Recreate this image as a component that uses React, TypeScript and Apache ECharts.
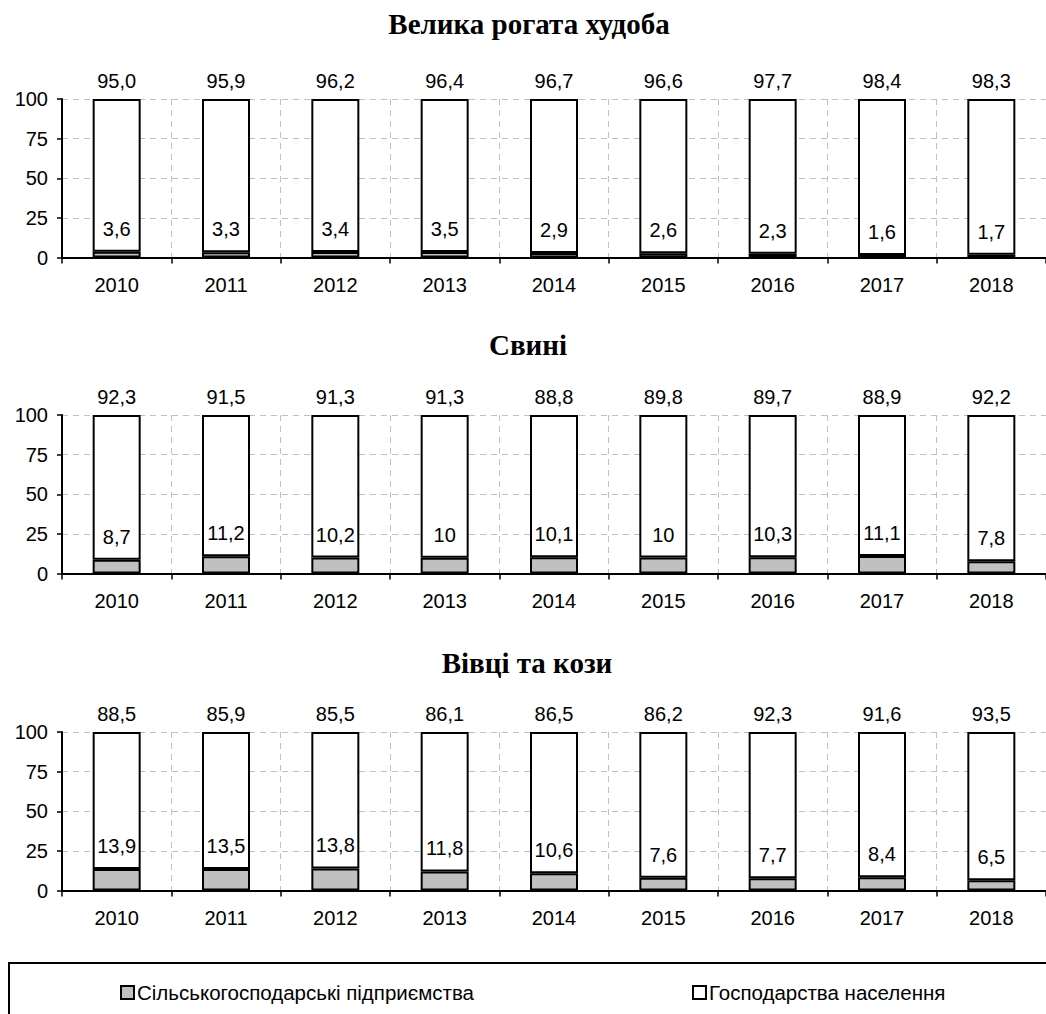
import React, { useEffect, useRef } from "react";
import * as echarts from "echarts";

const years = ["2010", "2011", "2012", "2013", "2014", "2015", "2016", "2017", "2018"];

const panelTitles = ["Велика рогата худоба", "Свині", "Вівці та кози"];

const seriesNames = ["Сільськогосподарські підприємства", "Господарства населення"];

const cattleEnterprises = [3.6, 3.3, 3.4, 3.5, 2.9, 2.6, 2.3, 1.6, 1.7];
const cattleHouseholds = [95.0, 95.9, 96.2, 96.4, 96.7, 96.6, 97.7, 98.4, 98.3];

const pigsEnterprises = [8.7, 11.2, 10.2, 10, 10.1, 10, 10.3, 11.1, 7.8];
const pigsHouseholds = [92.3, 91.5, 91.3, 91.3, 88.8, 89.8, 89.7, 88.9, 92.2];

const sheepEnterprises = [13.9, 13.5, 13.8, 11.8, 10.6, 7.6, 7.7, 8.4, 6.5];
const sheepHouseholds = [88.5, 85.9, 85.5, 86.1, 86.5, 86.2, 92.3, 91.6, 93.5];

const yTicks = [0, 25, 50, 75, 100];

const FONT = '"Liberation Sans", Arial, Helvetica, sans-serif';
const SERIF = '"Liberation Serif", "Times New Roman", serif';

const panels = [
  { ent: cattleEnterprises, house: cattleHouseholds },
  { ent: pigsEnterprises, house: pigsHouseholds },
  { ent: sheepEnterprises, house: sheepHouseholds },
];

const gridTops = [99, 415, 732];
const gridHeight = 158.5;
const titlePos = [
  { x: 529, y: 24 },
  { x: 528, y: 345 },
  { x: 527, y: 663 },
];

const comma = (v: number) => String(v).replace(".", ",");
const comma1 = (v: number) => v.toFixed(1).replace(".", ",");

export default function App() {
  const ref = useRef<HTMLDivElement>(null);

  useEffect(() => {
    document.body.style.margin = "0";
    document.body.style.overflow = "hidden";
    if (!ref.current) return;
    const chart = echarts.init(ref.current, undefined, { renderer: "svg" });

    const grids: any[] = [];
    const xAxes: any[] = [];
    const yAxes: any[] = [];
    const series: any[] = [];

    panels.forEach((p, i) => {
      grids.push({ left: 62, top: gridTops[i], width: 987, height: gridHeight, containLabel: false });
      xAxes.push({
        type: "category",
        gridIndex: i,
        data: years,
        axisLine: { show: true, lineStyle: { color: "#000", width: 2 } },
        axisTick: { show: true, length: 6, lineStyle: { color: "#000", width: 1.5 } },
        axisLabel: { color: "#000", fontFamily: FONT, fontSize: 20, margin: 17 },
        splitLine: { show: true, lineStyle: { color: "#c0c0c0", width: 1, type: [6, 5] } },
      });
      yAxes.push({
        type: "value",
        gridIndex: i,
        min: yTicks[0],
        max: yTicks[yTicks.length - 1],
        interval: 25,
        axisLine: { show: true, lineStyle: { color: "#000", width: 2 } },
        axisTick: { show: true, length: 5, lineStyle: { color: "#000", width: 1.5 } },
        axisLabel: { color: "#000", fontFamily: FONT, fontSize: 20, margin: 14 },
        splitLine: { show: true, lineStyle: { color: "#c0c0c0", width: 1, type: [6, 5] } },
      });
      // 100% stacked: normalise each year's pair of shares
      const entPct = p.ent.map((e, k) => (e / (e + p.house[k])) * 100);
      const housePct = p.house.map((h, k) => (h / (h + p.ent[k])) * 100);
      series.push({
        type: "bar",
        name: seriesNames[0],
        xAxisIndex: i,
        yAxisIndex: i,
        stack: "s" + i,
        barWidth: 48,
        z: 3,
        data: entPct,
        itemStyle: { color: "#c0c0c0", borderColor: "#000", borderWidth: 2 },
        label: {
          show: true,
          position: "top",
          distance: 13,
          color: "#000",
          fontFamily: FONT,
          fontSize: 20,
          formatter: (prm: any) => comma(p.ent[prm.dataIndex]),
        },
      });
      series.push({
        type: "bar",
        name: seriesNames[1],
        xAxisIndex: i,
        yAxisIndex: i,
        stack: "s" + i,
        barWidth: 48,
        z: 2,
        data: housePct,
        itemStyle: { color: "#fff", borderColor: "#000", borderWidth: 2 },
        label: {
          show: true,
          position: "top",
          distance: 8,
          color: "#000",
          fontFamily: FONT,
          fontSize: 20,
          formatter: (prm: any) => comma1(p.house[prm.dataIndex]),
        },
      });
    });

    const graphic: any[] = panelTitles.map((t, i) => ({
      type: "text",
      x: titlePos[i].x,
      y: titlePos[i].y,
      style: {
        text: t,
        font: `bold 29px ${SERIF}`,
        fill: "#000",
        align: "center",
        verticalAlign: "middle",
        textAlign: "center",
        textVerticalAlign: "middle",
      },
    }));
    graphic.push({
      type: "rect",
      shape: { x: 9, y: 963, width: 1100, height: 200 },
      style: { fill: "none", stroke: "#000", lineWidth: 2 },
      z: -1,
    });

    const legendCommon = {
      orient: "horizontal",
      top: 977,
      itemWidth: 13,
      itemHeight: 13,
      icon: "rect",
      selectedMode: false,
      textStyle: { color: "#000", fontFamily: FONT, fontSize: 20.5, padding: [0, 0, 0, -2] },
    };

    chart.setOption({
      animation: false,
      backgroundColor: "#fff",
      grid: grids,
      xAxis: xAxes,
      yAxis: yAxes,
      series,
      graphic,
      legend: [
        { ...legendCommon, left: 115, data: [seriesNames[0]] },
        { ...legendCommon, left: 687, data: [seriesNames[1]] },
      ],
    });

    return () => chart.dispose();
  }, []);

  return <div ref={ref} style={{ width: 1046, height: 1014 }} />;
}
